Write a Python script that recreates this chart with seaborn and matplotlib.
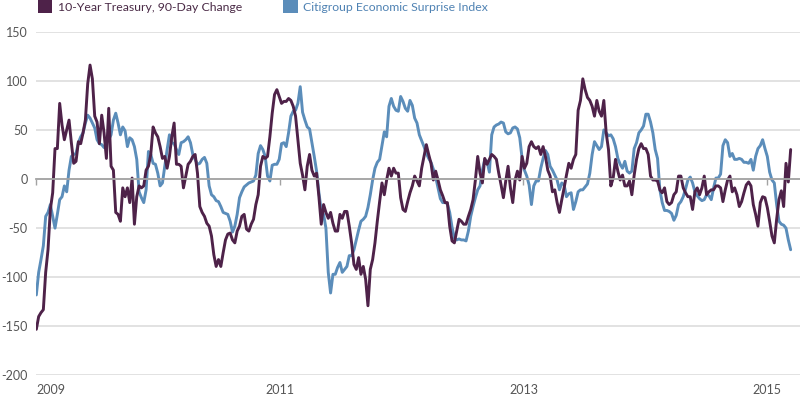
import numpy as np
import pandas as pd
import matplotlib
matplotlib.use("Agg")
import matplotlib.pyplot as plt
import matplotlib.dates as mdates
from matplotlib.patches import Patch
import seaborn as sns

# ---------------- data (weekly readings) ----------------
treasury_change = [
    -153, -140, -136, -133, -95, -72, -31, -14, 31, 31,
    77, 55, 40, 50, 60, 37, 16, 18, 38, 36,
    47, 60, 97, 116, 102, 64, 58, 36, 65, 47,
    21, 72, 13, 9, -34, -36, -43, -9, -18, -9,
    -24, 1, -46, -18, -7, -9, -7, 9, 13, 25,
    53, 47, 43, 33, 21, 23, 11, 23, 43, 57,
    15, 15, 13, -9, 3, 15,
    18, 23, 25, 6, -28, -34, -38, -45, -48, -58,
    -77, -89, -82, -89, -75, -62, -56, -55, -62, -65,
    -53, -48, -38, -36, -51, -53, -46, -41, -26, -16,
    13, 23, 21, 23, 43, 67, 86, 91, 84, 77,
    79, 79, 82, 80, 74, 64, 40, 16, 4, -11,
    13, 25, 9, 3, 6, -18, -46, -26, -34, -40,
    -34, -45, -53, -53, -36, -40,
    -33, -33, -48, -65, -87, -92, -80, -97, -89, -102,
    -129, -92, -82, -65, -43, -23, -4, -16, -1, 11,
    3, 11, 6, 6, -19, -31, -33, -23, -14, -7,
    3, -2, -7, 11, 23, 35, 25, 16, -1, 8,
    -1, -11, -17, -24, -24, -48, -63, -65, -53, -41,
    -43, -46, -46, -38, -31, -21, -1, 23, 6, -4,
    21, 15, 20, 25, 23, 20,
    6, -6, -19, -2, 13, -9, -24, -1, 8, -1,
    23, 11, 16, 33, 38, 33, 31, 33, 25, 33,
    23, 9, 3, -13, -11, -24, -34, -21, -9, 4,
    16, 11, 20, 25, 70, 80, 102, 91, 83, 80,
    74, 64, 80, 69, 64, 80, 47, 30, -7, 1,
    20, 8, -1, 4, -7, -7, -2, -16, 4, 20,
    31, 36, 31, 31, 25, 3,
    -1, -1, -2, -11, -14, -9, -23, -26, -24, -16,
    -13, 3, 3, -9, -14, -18, -18, -31, -13, -9,
    -16, -9, 3, -16, -13, -11, -11, -7, -7, -9,
    -23, -11, -1, 3, -13, -9, -16, -28, -23, -14,
    -6, -3, -7, -26, -36, -48, -24, -18, -19, -29,
    -43, -58, -65, -41, -21, -12, -28, 16, -3, 30,
]

citi_surprise = [
    -118, -95, -82, -68, -38, -34, -26, -38, -50, -36,
    -21, -18, -7, -13, 9, 23, 25, 26, 37, 43,
    47, 57, 65, 62, 57, 52, 40, 36, 35, 32,
    37, 40, 45, 60, 67, 57, 45, 53, 49, 33,
    42, 40, 33, 20, -13, -19, -24, -11, 28, 25,
    16, 15, 6, -7, -4, 13, 30, 45, 37, 36,
    30, 25, 37, 38, 40, 43,
    37, 25, 20, 15, 16, 20, 22, 16, -7, -16,
    -18, -22, -23, -28, -34, -35, -36, -43, -54, -48,
    -36, -19, -13, -8, -6, -4, -3, -2, 4, 26,
    34, 30, 23, 3, -2, 14, 15, 15, 20, 36,
    37, 33, 47, 64, 69, 70, 77, 94, 68, 60,
    53, 51, 37, 23, 8, -14, -32, -36, -50, -95,
    -116, -97, -97, -90, -85, -95,
    -92, -89, -78, -78, -72, -62, -52, -43, -41, -38,
    -29, -16, -1, 11, 17, 20, 34, 48, 43, 74,
    82, 74, 70, 69, 84, 79, 72, 69, 80, 75,
    62, 57, 45, 39, 33, 26, 21, 17, 10, 2,
    -9, -20, -24, -24, -25, -34, -49, -60, -62, -61,
    -62, -62, -63, -53, -38, -28, -19, -11, -7, 9,
    20, 18, 7, 45, 53, 55,
    56, 58, 57, 48, 46, 47, 52, 53, 51, 42,
    21, 9, 3, -6, -26, -7, -2, -2, 11, 21,
    29, 25, 13, 9, 4, -1, -11, -4, -6, -18,
    -15, -14, -31, -23, -13, -11, -11, -8, -5, 6,
    25, 38, 34, 30, 33, 50, 47, 44, 45, 41,
    33, 21, 15, 11, 18, 8, 6, 8, 31, 37,
    47, 50, 54, 66, 66, 58,
    47, 30, 21, -11, -24, -32, -32, -33, -35, -42,
    -37, -26, -23, -18, -10, -1, 2, -4, -13, -17,
    -20, -22, -21, -16, -17, -21, -9, 1, 1, 5,
    34, 40, 37, 23, 26, 20, 20, 21, 20, 17,
    17, 16, 20, 9, 23, 31, 34, 40, 31, 23,
    7, -1, -4, -26, -43, -46, -47, -50, -62, -72,
]

series_names = ["10-Year Treasury, 90-Day Change", "Citigroup Economic Surprise Index"]
series_colors = ["#4e2249", "#5b8dba"]
legend_text_colors = ["#4a2a46", "#4f82b3"]
y_ticks = [-200, -150, -100, -50, 0, 50, 100, 150]
y_tick_labels = ["-200", "-150", "-100", "-50", "0", "50", "100", "150"]
x_tick_years = ["2009", "2011", "2013", "2015"]

dates = pd.date_range("2009-01-02", periods=len(treasury_change), freq="W-FRI")
df = pd.DataFrame({"date": dates,
                   series_names[0]: treasury_change,
                   series_names[1]: citi_surprise})
long = df.melt(id_vars="date", var_name="series", value_name="value")

# ---------------- style ----------------
sns.set_theme(style="white")
plt.rcParams["font.family"] = ["Lato", "DejaVu Sans"]
label_color = "#555555"
fs = 9.0
legend_fs = 8.8

fig = plt.figure(figsize=(8, 3.95), dpi=100)
ax = fig.add_axes([0.045, 0.0494, 0.955, 0.8704])

sns.lineplot(data=long, x="date", y="value", hue="series",
             hue_order=[series_names[1], series_names[0]],
             palette={series_names[0]: series_colors[0], series_names[1]: series_colors[1]},
             linewidth=2.1, legend=False, ax=ax)

ax.set_xlim(pd.Timestamp("2009-01-01"), pd.Timestamp("2015-04-10"))
ax.set_ylim(-200, 150)
ax.set_xlabel("")
ax.set_ylabel("")

# y grid
ax.set_yticks(y_ticks)
ax.set_yticklabels(y_tick_labels)
ax.yaxis.grid(True, color="#e2e2e2", linewidth=1.4)
ax.xaxis.grid(False)
ax.set_axisbelow(True)
ax.tick_params(axis="y", length=0, pad=6, labelsize=fs, labelcolor=label_color)

for s in ["top", "right", "left"]:
    ax.spines[s].set_visible(False)

# zero line carries the small x ticks
tick_pos = [mdates.date2num(pd.Timestamp(f"{y}-01-01")) for y in x_tick_years]
ax.spines["bottom"].set_position(("data", 0))
ax.spines["bottom"].set_color("#a3a3a3")
ax.spines["bottom"].set_linewidth(1.3)
ax.set_xticks(tick_pos)
ax.tick_params(axis="x", length=4, width=1, color="#a3a3a3", direction="out",
               labelbottom=False, bottom=True)

# year labels along the bottom
sec = ax.secondary_xaxis("bottom")
sec.set_xticks(tick_pos)
sec.set_xticklabels(x_tick_years)
sec.tick_params(length=0, pad=6, labelsize=fs, labelcolor=label_color)
sec.spines["bottom"].set_visible(False)
sec.get_xticklabels()[0].set_ha("left")

# legend (two entries, placed separately)
for i, xpos in enumerate([0.044, 0.3505]):
    leg = fig.legend(handles=[Patch(facecolor=series_colors[i], edgecolor="none", label=series_names[i])],
                     loc="upper left", bbox_to_anchor=(xpos, 1.005), frameon=False,
                     fontsize=legend_fs, handlelength=1.2, handleheight=1.2,
                     handletextpad=0.45, borderaxespad=0, borderpad=0.2)
    for t in leg.get_texts():
        t.set_color(legend_text_colors[i])

fig.savefig("out.png", dpi=100)
